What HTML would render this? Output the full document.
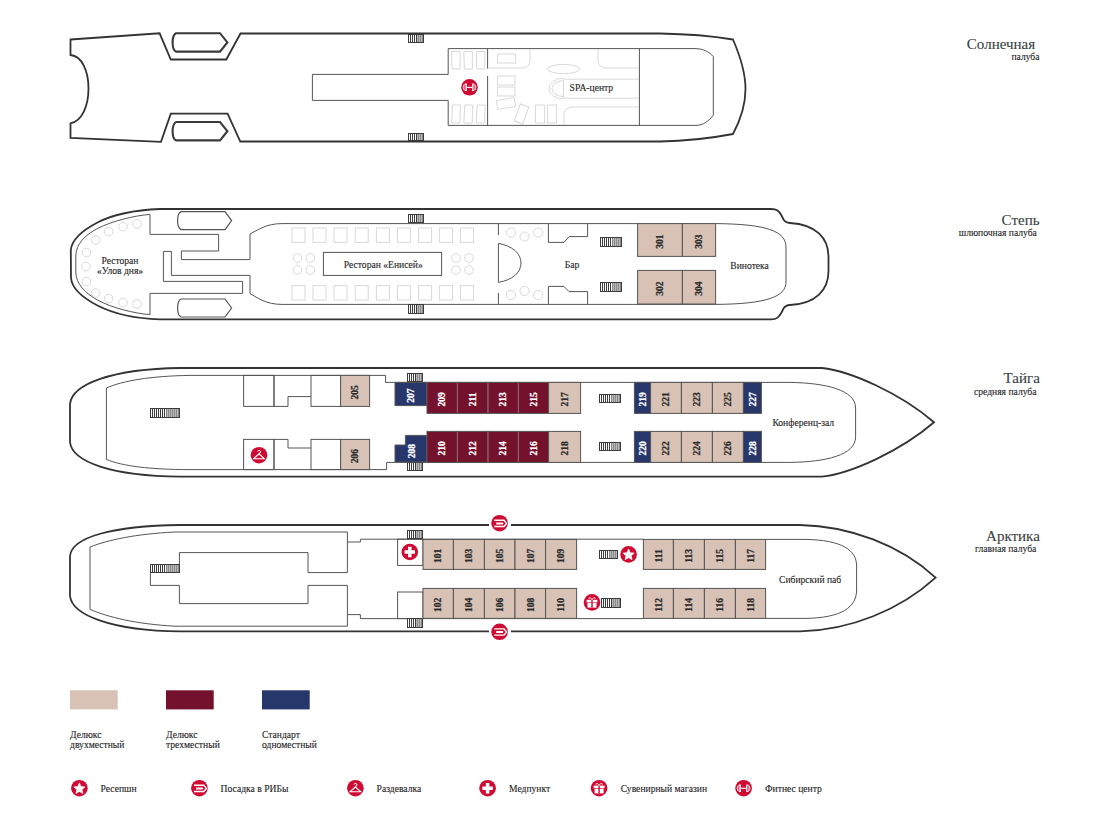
<!DOCTYPE html>
<html><head><meta charset="utf-8"><title>Deck plan</title>
<style>html,body{margin:0;padding:0;background:#fff;} svg{display:block;} text{font-family:"Liberation Serif",serif;}</style></head>
<body><svg width="1105" height="832" viewBox="0 0 1105 832">
<rect width="1105" height="832" fill="#fff"/>
<path d="M70.5,39.5 L159.6,33.3 L170.8,59.5 L226.3,59.5 L240.5,33.5 L660,33.5 C690,34 712,36 733,39.5 C741,58 745.5,73 745.5,89 C745.5,104 741,119 733,134 C712,138 690,141 660,141.5 L240.3,141.5 L227.6,113.7 L170.8,113.7 L161,141.8 L70.5,138 L70.5,123.4 C82,121 88.5,106 88.5,88.5 C88.5,71 82,56 70.5,55 Z" fill="none" stroke="#333" stroke-width="1.8"/>
<path d="M176,33.2 L220,33.2 L227.4,42.4 L220,51.6 L176,51.6 C173,50 172.6,46 172.6,42.4 C172.6,39 173,35 176,33.2 Z" fill="none" stroke="#3a3a3a" stroke-width="2.1"/>
<path d="M176,122 L220,122 L227.4,131.2 L220,140.4 L176,140.4 C173,139 172.6,135 172.6,131.2 C172.6,127.5 173,124 176,122 Z" fill="none" stroke="#3a3a3a" stroke-width="2.1"/>
<path d="M448.2,74.4 L312.4,74.4 L312.4,100.4 L448.2,100.4" fill="none" stroke="#555" stroke-width="1"/>
<path d="M448.2,74.4 L448.2,48.6 L695,48.6 C703,48.6 709,51.5 713.3,56.6 L713.3,115.2 C709,121 703,125.4 696,125.4 L448.2,125.4 L448.2,100.4" fill="none" stroke="#555" stroke-width="1"/>
<path d="M487.6,48.6 L487.6,68.6" fill="none" stroke="#555" stroke-width="1"/>
<path d="M487.6,76 L487.6,125.4" fill="none" stroke="#555" stroke-width="1"/>
<path d="M639.4,48.6 L639.4,125.4" fill="none" stroke="#555" stroke-width="1"/>
<rect x="408.5" y="34.5" width="15.0" height="8.0" fill="#fff" stroke="none"/>
<rect x="416.75" y="34.5" width="6.75" height="8.0" fill="#b8b8b8" stroke="none"/>
<line x1="410.5" y1="34.5" x2="410.5" y2="42.5" stroke="#3c3c3c" stroke-width="1"/>
<line x1="412.5" y1="34.5" x2="412.5" y2="42.5" stroke="#3c3c3c" stroke-width="1"/>
<line x1="414.5" y1="34.5" x2="414.5" y2="42.5" stroke="#3c3c3c" stroke-width="1"/>
<line x1="416.5" y1="34.5" x2="416.5" y2="42.5" stroke="#3c3c3c" stroke-width="1"/>
<line x1="418.5" y1="34.5" x2="418.5" y2="42.5" stroke="#8a8a8a" stroke-width="1"/>
<line x1="420.5" y1="34.5" x2="420.5" y2="42.5" stroke="#8a8a8a" stroke-width="1"/>
<line x1="422.5" y1="34.5" x2="422.5" y2="42.5" stroke="#8a8a8a" stroke-width="1"/>
<rect x="408.5" y="34.5" width="15.0" height="8.0" fill="none" stroke="#3c3c3c" stroke-width="1"/>
<rect x="408.5" y="133.5" width="15.0" height="7.0" fill="#fff" stroke="none"/>
<rect x="416.75" y="133.5" width="6.75" height="7.0" fill="#b8b8b8" stroke="none"/>
<line x1="410.5" y1="133.5" x2="410.5" y2="140.5" stroke="#3c3c3c" stroke-width="1"/>
<line x1="412.5" y1="133.5" x2="412.5" y2="140.5" stroke="#3c3c3c" stroke-width="1"/>
<line x1="414.5" y1="133.5" x2="414.5" y2="140.5" stroke="#3c3c3c" stroke-width="1"/>
<line x1="416.5" y1="133.5" x2="416.5" y2="140.5" stroke="#3c3c3c" stroke-width="1"/>
<line x1="418.5" y1="133.5" x2="418.5" y2="140.5" stroke="#8a8a8a" stroke-width="1"/>
<line x1="420.5" y1="133.5" x2="420.5" y2="140.5" stroke="#8a8a8a" stroke-width="1"/>
<line x1="422.5" y1="133.5" x2="422.5" y2="140.5" stroke="#8a8a8a" stroke-width="1"/>
<rect x="408.5" y="133.5" width="15.0" height="7.0" fill="none" stroke="#3c3c3c" stroke-width="1"/>
<path d="M451.5,51.5 L460.1,51.5 L460.1,69 L452.1,69 Z" fill="none" stroke="#d9d9d9" stroke-width="1"/>
<path d="M452.5,105 L460.5,105 L459.9,123 L451.5,123 Z" fill="none" stroke="#d9d9d9" stroke-width="1"/>
<path d="M463.8,51.5 L472.40000000000003,51.5 L472.40000000000003,69 L464.40000000000003,69 Z" fill="none" stroke="#d9d9d9" stroke-width="1"/>
<path d="M464.8,105 L472.8,105 L472.2,123 L463.8,123 Z" fill="none" stroke="#d9d9d9" stroke-width="1"/>
<path d="M476.2,51.5 L484.8,51.5 L484.8,69 L476.8,69 Z" fill="none" stroke="#d9d9d9" stroke-width="1"/>
<path d="M477.2,105 L485.2,105 L484.59999999999997,123 L476.2,123 Z" fill="none" stroke="#d9d9d9" stroke-width="1"/>
<rect x="497.6" y="54" width="18.0" height="9" fill="none" stroke="#d9d9d9" stroke-width="1"/>
<path d="M488,68 L522,68 Q530,68 530,60 L530,49" fill="none" stroke="#d9d9d9" stroke-width="1"/>
<ellipse cx="563.6" cy="69" rx="16" ry="4.6" fill="none" stroke="#d9d9d9" stroke-width="1"/>
<path d="M598,49 L598,60 Q598,68 607,68 L639,68" fill="none" stroke="#d9d9d9" stroke-width="1"/>
<rect x="497.6" y="76" width="17.4" height="9" fill="none" stroke="#d9d9d9" stroke-width="1"/>
<rect x="497.6" y="87" width="17.4" height="9" fill="none" stroke="#d9d9d9" stroke-width="1"/>
<rect x="497" y="99" width="18" height="9" transform="rotate(-10 506 103.5)" fill="none" stroke="#d9d9d9"/>
<rect x="517" y="105" width="9" height="18" transform="rotate(20 521.5 114)" fill="none" stroke="#d9d9d9"/>
<rect x="535.4" y="105" width="9.0" height="18" fill="none" stroke="#d9d9d9" stroke-width="1"/>
<rect x="547.4" y="105" width="9.0" height="18" fill="none" stroke="#d9d9d9" stroke-width="1"/>
<path d="M563.5,78.3 A14.6,10.3 0 0 0 563.5,98.9" fill="none" stroke="#d9d9d9" stroke-width="1"/>
<path d="M563.5,80.6 A11.6,8 0 0 0 563.5,96.6" fill="none" stroke="#d9d9d9" stroke-width="1"/>
<path d="M639,79.2 L563.5,79.2 L563.5,98.1 L639,98.1" fill="none" stroke="#d9d9d9" stroke-width="1"/>
<path d="M564,125 L564,114 Q564,107 575,107 L639,107" fill="none" stroke="#d9d9d9" stroke-width="1"/>
<g transform="translate(469.5,87.3)"><circle r="8.3" fill="#cf0a33"/>
<rect x="-3" y="-0.5" width="6" height="1.1" fill="#fff"/>
<rect x="-4.9" y="-3.7" width="2.3" height="7.4" rx="0.5" fill="#fff"/>
<rect x="2.6" y="-3.7" width="2.3" height="7.4" rx="0.5" fill="#fff"/>
<rect x="-4.0" y="-2.6" width="0.6" height="5.2" fill="#cf0a33"/>
<rect x="3.4" y="-2.6" width="0.6" height="5.2" fill="#cf0a33"/>
<path d="M-5.6,-2.6 Q-7.2,0 -5.6,2.6 M5.6,-2.6 Q7.2,0 5.6,2.6" fill="none" stroke="#fff" stroke-width="0.9"/>
</g>
<text x="569.6" y="90.7" text-anchor="start" font-family="Liberation Serif" font-size="9.6" fill="#262626" stroke="#262626" stroke-width="0.12">SPA-центр</text>
<path d="M160,209 L771,209 C777,209 779,211 781.5,215.5 L783.5,219.5 C785,222 786.5,222.8 790,223 C816,224.5 828.5,238 828.5,257 L828.5,271 C828.5,290 816,303.5 790,305 C786.5,305.2 785,306 783.5,308.5 L781.5,312.5 C779,317 777,319.4 771,319.4 L160,319.4 C135,318.5 112,313 97.5,305.5 C85,299 72,290 71,278 L70.8,250 C72,238 85,229 97.5,222.5 C112,215 135,210 160,209 Z" fill="none" stroke="#333" stroke-width="1.8"/>
<path d="M150,214.4 C135,215.5 112,221 97.5,228.5 C85,235 76,244 75.8,256 L75.8,272 C76,284 85,293 97.5,300 C112,308 135,313.5 150,314.6" fill="none" stroke="#555" stroke-width="1"/>
<path d="M181,211.6 L225,211.6 L231.6,220.6 L225,229.6 L181,229.6 C178,228 177.6,224 177.6,220.6 C177.6,217 178,213 181,211.6 Z" fill="none" stroke="#555" stroke-width="1.2"/>
<path d="M181,299 L225,299 L231.6,308 L225,317 L181,317 C178,315.5 177.6,311.5 177.6,308 C177.6,304.5 178,300.5 181,299 Z" fill="none" stroke="#555" stroke-width="1.2"/>
<path d="M150,214.4 L150,234.4 L218.6,234.4 L218.6,251 L181.4,251 L181.4,259.6 L250,259.6 L250,234" fill="none" stroke="#555" stroke-width="1"/>
<path d="M250,234 C258,230 266,223.6 282,223.6 L715.6,223.6" fill="none" stroke="#555" stroke-width="1"/>
<path d="M171.4,275.4 L171.4,251.4 L163.4,251.4 L163.4,281.4 L242.6,281.4 L242.6,293.4 L150,293.4 L150,314.6" fill="none" stroke="#555" stroke-width="1"/>
<path d="M171.4,275.4 L250,275.4 L250,293.6" fill="none" stroke="#555" stroke-width="1"/>
<path d="M250,293.6 C258,298 266,304.4 282,304.4 L715.6,304.4" fill="none" stroke="#555" stroke-width="1"/>
<rect x="323.4" y="252.4" width="118.2" height="23.0" fill="none" stroke="#555" stroke-width="1"/>
<text x="383.3" y="267.5" text-anchor="middle" font-family="Liberation Serif" font-size="9.6" fill="#262626" stroke="#262626" stroke-width="0.12">Ресторан «Енисей»</text>
<text x="120" y="263.5" text-anchor="middle" font-family="Liberation Serif" font-size="9.6" fill="#262626" stroke="#262626" stroke-width="0.12">Ресторан</text>
<text x="120" y="274.4" text-anchor="middle" font-family="Liberation Serif" font-size="9.6" fill="#262626" stroke="#262626" stroke-width="0.12">«Улов дня»</text>
<circle cx="137" cy="224" r="4.3" fill="none" stroke="#d9d9d9" stroke-width="1"/>
<circle cx="123" cy="226.6" r="4.3" fill="none" stroke="#d9d9d9" stroke-width="1"/>
<circle cx="108.6" cy="231.6" r="4.3" fill="none" stroke="#d9d9d9" stroke-width="1"/>
<circle cx="95.6" cy="240" r="4.3" fill="none" stroke="#d9d9d9" stroke-width="1"/>
<circle cx="86.4" cy="252.6" r="4.3" fill="none" stroke="#d9d9d9" stroke-width="1"/>
<circle cx="86" cy="266.6" r="4.3" fill="none" stroke="#d9d9d9" stroke-width="1"/>
<circle cx="86.4" cy="281.6" r="4.3" fill="none" stroke="#d9d9d9" stroke-width="1"/>
<circle cx="95.6" cy="293" r="4.3" fill="none" stroke="#d9d9d9" stroke-width="1"/>
<circle cx="108.6" cy="298.6" r="4.3" fill="none" stroke="#d9d9d9" stroke-width="1"/>
<circle cx="123" cy="302.6" r="4.3" fill="none" stroke="#d9d9d9" stroke-width="1"/>
<circle cx="137" cy="304" r="4.3" fill="none" stroke="#d9d9d9" stroke-width="1"/>
<rect x="292" y="228" width="13" height="14.4" fill="none" stroke="#d9d9d9" stroke-width="1"/>
<rect x="292" y="285.6" width="13" height="14.4" fill="none" stroke="#d9d9d9" stroke-width="1"/>
<rect x="313" y="228" width="13" height="14.4" fill="none" stroke="#d9d9d9" stroke-width="1"/>
<rect x="313" y="285.6" width="13" height="14.4" fill="none" stroke="#d9d9d9" stroke-width="1"/>
<rect x="334" y="228" width="13" height="14.4" fill="none" stroke="#d9d9d9" stroke-width="1"/>
<rect x="334" y="285.6" width="13" height="14.4" fill="none" stroke="#d9d9d9" stroke-width="1"/>
<rect x="355.2" y="228" width="13.0" height="14.4" fill="none" stroke="#d9d9d9" stroke-width="1"/>
<rect x="355.2" y="285.6" width="13.0" height="14.4" fill="none" stroke="#d9d9d9" stroke-width="1"/>
<rect x="376.4" y="228" width="13.0" height="14.4" fill="none" stroke="#d9d9d9" stroke-width="1"/>
<rect x="376.4" y="285.6" width="13.0" height="14.4" fill="none" stroke="#d9d9d9" stroke-width="1"/>
<rect x="397.4" y="228" width="13.0" height="14.4" fill="none" stroke="#d9d9d9" stroke-width="1"/>
<rect x="397.4" y="285.6" width="13.0" height="14.4" fill="none" stroke="#d9d9d9" stroke-width="1"/>
<rect x="418.6" y="228" width="13.0" height="14.4" fill="none" stroke="#d9d9d9" stroke-width="1"/>
<rect x="418.6" y="285.6" width="13.0" height="14.4" fill="none" stroke="#d9d9d9" stroke-width="1"/>
<rect x="439.6" y="228" width="13.0" height="14.4" fill="none" stroke="#d9d9d9" stroke-width="1"/>
<rect x="439.6" y="285.6" width="13.0" height="14.4" fill="none" stroke="#d9d9d9" stroke-width="1"/>
<rect x="460.6" y="228" width="13.0" height="14.4" fill="none" stroke="#d9d9d9" stroke-width="1"/>
<rect x="460.6" y="285.6" width="13.0" height="14.4" fill="none" stroke="#d9d9d9" stroke-width="1"/>
<circle cx="297.4" cy="258" r="4.3" fill="none" stroke="#d9d9d9" stroke-width="1"/>
<circle cx="310.4" cy="258" r="4.3" fill="none" stroke="#d9d9d9" stroke-width="1"/>
<circle cx="297.4" cy="270" r="4.3" fill="none" stroke="#d9d9d9" stroke-width="1"/>
<circle cx="310.4" cy="270" r="4.3" fill="none" stroke="#d9d9d9" stroke-width="1"/>
<circle cx="456" cy="258" r="4.3" fill="none" stroke="#d9d9d9" stroke-width="1"/>
<circle cx="469" cy="258" r="4.3" fill="none" stroke="#d9d9d9" stroke-width="1"/>
<circle cx="456" cy="270" r="4.3" fill="none" stroke="#d9d9d9" stroke-width="1"/>
<circle cx="469" cy="270" r="4.3" fill="none" stroke="#d9d9d9" stroke-width="1"/>
<rect x="408.5" y="214.5" width="15.0" height="8.0" fill="#fff" stroke="none"/>
<rect x="416.75" y="214.5" width="6.75" height="8.0" fill="#b8b8b8" stroke="none"/>
<line x1="410.5" y1="214.5" x2="410.5" y2="222.5" stroke="#3c3c3c" stroke-width="1"/>
<line x1="412.5" y1="214.5" x2="412.5" y2="222.5" stroke="#3c3c3c" stroke-width="1"/>
<line x1="414.5" y1="214.5" x2="414.5" y2="222.5" stroke="#3c3c3c" stroke-width="1"/>
<line x1="416.5" y1="214.5" x2="416.5" y2="222.5" stroke="#3c3c3c" stroke-width="1"/>
<line x1="418.5" y1="214.5" x2="418.5" y2="222.5" stroke="#8a8a8a" stroke-width="1"/>
<line x1="420.5" y1="214.5" x2="420.5" y2="222.5" stroke="#8a8a8a" stroke-width="1"/>
<line x1="422.5" y1="214.5" x2="422.5" y2="222.5" stroke="#8a8a8a" stroke-width="1"/>
<rect x="408.5" y="214.5" width="15.0" height="8.0" fill="none" stroke="#3c3c3c" stroke-width="1"/>
<rect x="408.5" y="304.5" width="15.0" height="9.0" fill="#fff" stroke="none"/>
<rect x="416.75" y="304.5" width="6.75" height="9.0" fill="#b8b8b8" stroke="none"/>
<line x1="410.5" y1="304.5" x2="410.5" y2="313.5" stroke="#3c3c3c" stroke-width="1"/>
<line x1="412.5" y1="304.5" x2="412.5" y2="313.5" stroke="#3c3c3c" stroke-width="1"/>
<line x1="414.5" y1="304.5" x2="414.5" y2="313.5" stroke="#3c3c3c" stroke-width="1"/>
<line x1="416.5" y1="304.5" x2="416.5" y2="313.5" stroke="#3c3c3c" stroke-width="1"/>
<line x1="418.5" y1="304.5" x2="418.5" y2="313.5" stroke="#8a8a8a" stroke-width="1"/>
<line x1="420.5" y1="304.5" x2="420.5" y2="313.5" stroke="#8a8a8a" stroke-width="1"/>
<line x1="422.5" y1="304.5" x2="422.5" y2="313.5" stroke="#8a8a8a" stroke-width="1"/>
<rect x="408.5" y="304.5" width="15.0" height="9.0" fill="none" stroke="#3c3c3c" stroke-width="1"/>
<path d="M498.4,223.6 L498.4,235" fill="none" stroke="#555" stroke-width="1"/>
<path d="M498.4,293 L498.4,304" fill="none" stroke="#555" stroke-width="1"/>
<path d="M498.4,243.4 C512,246 521,253 521,263 C521,273 512,280 498.4,282.4 Z" fill="none" stroke="#555" stroke-width="1"/>
<circle cx="511" cy="232.6" r="4.6" fill="none" stroke="#d9d9d9" stroke-width="1"/>
<circle cx="524.6" cy="236.6" r="4.6" fill="none" stroke="#d9d9d9" stroke-width="1"/>
<circle cx="538.2" cy="232.6" r="4.6" fill="none" stroke="#d9d9d9" stroke-width="1"/>
<circle cx="511" cy="295" r="4.6" fill="none" stroke="#d9d9d9" stroke-width="1"/>
<circle cx="524.6" cy="291" r="4.6" fill="none" stroke="#d9d9d9" stroke-width="1"/>
<circle cx="538.2" cy="295" r="4.6" fill="none" stroke="#d9d9d9" stroke-width="1"/>
<path d="M548.4,223.6 L548.4,242.4 L564,242.4 L569,236.6 L587.6,236.6 L587.6,223.6" fill="none" stroke="#555" stroke-width="1"/>
<path d="M548.4,304 L548.4,286.4 L564,286.4 L569,291.6 L587.6,291.6 L587.6,304" fill="none" stroke="#555" stroke-width="1"/>
<rect x="600.5" y="237.5" width="21.0" height="9.0" fill="#fff" stroke="none"/>
<rect x="612.05" y="237.5" width="9.45" height="9.0" fill="#b8b8b8" stroke="none"/>
<line x1="602.5" y1="237.5" x2="602.5" y2="246.5" stroke="#3c3c3c" stroke-width="1"/>
<line x1="604.5" y1="237.5" x2="604.5" y2="246.5" stroke="#3c3c3c" stroke-width="1"/>
<line x1="606.5" y1="237.5" x2="606.5" y2="246.5" stroke="#3c3c3c" stroke-width="1"/>
<line x1="608.5" y1="237.5" x2="608.5" y2="246.5" stroke="#3c3c3c" stroke-width="1"/>
<line x1="610.5" y1="237.5" x2="610.5" y2="246.5" stroke="#3c3c3c" stroke-width="1"/>
<line x1="612.5" y1="237.5" x2="612.5" y2="246.5" stroke="#8a8a8a" stroke-width="1"/>
<line x1="614.5" y1="237.5" x2="614.5" y2="246.5" stroke="#8a8a8a" stroke-width="1"/>
<line x1="616.5" y1="237.5" x2="616.5" y2="246.5" stroke="#8a8a8a" stroke-width="1"/>
<line x1="618.5" y1="237.5" x2="618.5" y2="246.5" stroke="#8a8a8a" stroke-width="1"/>
<line x1="620.5" y1="237.5" x2="620.5" y2="246.5" stroke="#8a8a8a" stroke-width="1"/>
<rect x="600.5" y="237.5" width="21.0" height="9.0" fill="none" stroke="#3c3c3c" stroke-width="1"/>
<rect x="600.5" y="282.5" width="21.0" height="9.0" fill="#fff" stroke="none"/>
<rect x="612.05" y="282.5" width="9.45" height="9.0" fill="#b8b8b8" stroke="none"/>
<line x1="602.5" y1="282.5" x2="602.5" y2="291.5" stroke="#3c3c3c" stroke-width="1"/>
<line x1="604.5" y1="282.5" x2="604.5" y2="291.5" stroke="#3c3c3c" stroke-width="1"/>
<line x1="606.5" y1="282.5" x2="606.5" y2="291.5" stroke="#3c3c3c" stroke-width="1"/>
<line x1="608.5" y1="282.5" x2="608.5" y2="291.5" stroke="#3c3c3c" stroke-width="1"/>
<line x1="610.5" y1="282.5" x2="610.5" y2="291.5" stroke="#3c3c3c" stroke-width="1"/>
<line x1="612.5" y1="282.5" x2="612.5" y2="291.5" stroke="#8a8a8a" stroke-width="1"/>
<line x1="614.5" y1="282.5" x2="614.5" y2="291.5" stroke="#8a8a8a" stroke-width="1"/>
<line x1="616.5" y1="282.5" x2="616.5" y2="291.5" stroke="#8a8a8a" stroke-width="1"/>
<line x1="618.5" y1="282.5" x2="618.5" y2="291.5" stroke="#8a8a8a" stroke-width="1"/>
<line x1="620.5" y1="282.5" x2="620.5" y2="291.5" stroke="#8a8a8a" stroke-width="1"/>
<rect x="600.5" y="282.5" width="21.0" height="9.0" fill="none" stroke="#3c3c3c" stroke-width="1"/>
<text x="572" y="267.7" text-anchor="middle" font-family="Liberation Serif" font-size="9.6" fill="#262626" stroke="#262626" stroke-width="0.12">Бар</text>
<rect x="637.6" y="223.6" width="44.8" height="32.8" fill="#d8c2b6" stroke="#555" stroke-width="1"/>
<text x="0" y="0" transform="translate(663.2,241.5) rotate(-90)" text-anchor="middle" font-family="Liberation Serif" font-weight="bold" font-size="9.5" fill="#2b2b2b" stroke="#2b2b2b" stroke-width="0.25">301</text>
<rect x="682.4" y="223.6" width="33.2" height="32.8" fill="#d8c2b6" stroke="#555" stroke-width="1"/>
<text x="0" y="0" transform="translate(702.2,241.5) rotate(-90)" text-anchor="middle" font-family="Liberation Serif" font-weight="bold" font-size="9.5" fill="#2b2b2b" stroke="#2b2b2b" stroke-width="0.25">303</text>
<rect x="637.6" y="270.4" width="44.8" height="33.6" fill="#d8c2b6" stroke="#555" stroke-width="1"/>
<text x="0" y="0" transform="translate(663.2,288.7) rotate(-90)" text-anchor="middle" font-family="Liberation Serif" font-weight="bold" font-size="9.5" fill="#2b2b2b" stroke="#2b2b2b" stroke-width="0.25">302</text>
<rect x="682.4" y="270.4" width="33.2" height="33.6" fill="#d8c2b6" stroke="#555" stroke-width="1"/>
<text x="0" y="0" transform="translate(702.2,288.7) rotate(-90)" text-anchor="middle" font-family="Liberation Serif" font-weight="bold" font-size="9.5" fill="#2b2b2b" stroke="#2b2b2b" stroke-width="0.25">304</text>
<path d="M715.6,223.6 C766,224 786,231 786,247 L786,282 C786,297 766,304 715.6,304.4" fill="none" stroke="#555" stroke-width="1"/>
<text x="749.6" y="269" text-anchor="middle" font-family="Liberation Serif" font-size="9.6" fill="#262626" stroke="#262626" stroke-width="0.12">Винотека</text>
<path d="M180,368 L822,368 C850,371 900,393 934,422.3 C900,451.6 850,473.6 822,476.6 L180,476.6 C112,476 72,462 70,442 L70,404 C72,384 112,369 180,368 Z" fill="none" stroke="#333" stroke-width="1.8"/>
<path d="M385.6,375.4 L190,375.4 C150,376 122,381 106.4,388 L106.4,459.4 C122,466 150,469.6 190,469.6 L386.6,469.6 L386.6,462.4 L395,462.4" fill="none" stroke="#555" stroke-width="1"/>
<path d="M385.6,375.4 L385.6,382.4 L761.4,382.4" fill="none" stroke="#555" stroke-width="1"/>
<path d="M395,462.4 L761.4,462.4" fill="none" stroke="#555" stroke-width="1"/>
<rect x="150.5" y="408.5" width="29.0" height="9.0" fill="#fff" stroke="none"/>
<rect x="166.45" y="408.5" width="13.05" height="9.0" fill="#b8b8b8" stroke="none"/>
<line x1="152.5" y1="408.5" x2="152.5" y2="417.5" stroke="#3c3c3c" stroke-width="1"/>
<line x1="154.5" y1="408.5" x2="154.5" y2="417.5" stroke="#3c3c3c" stroke-width="1"/>
<line x1="156.5" y1="408.5" x2="156.5" y2="417.5" stroke="#3c3c3c" stroke-width="1"/>
<line x1="158.5" y1="408.5" x2="158.5" y2="417.5" stroke="#3c3c3c" stroke-width="1"/>
<line x1="160.5" y1="408.5" x2="160.5" y2="417.5" stroke="#3c3c3c" stroke-width="1"/>
<line x1="162.5" y1="408.5" x2="162.5" y2="417.5" stroke="#3c3c3c" stroke-width="1"/>
<line x1="164.5" y1="408.5" x2="164.5" y2="417.5" stroke="#3c3c3c" stroke-width="1"/>
<line x1="166.5" y1="408.5" x2="166.5" y2="417.5" stroke="#8a8a8a" stroke-width="1"/>
<line x1="168.5" y1="408.5" x2="168.5" y2="417.5" stroke="#8a8a8a" stroke-width="1"/>
<line x1="170.5" y1="408.5" x2="170.5" y2="417.5" stroke="#8a8a8a" stroke-width="1"/>
<line x1="172.5" y1="408.5" x2="172.5" y2="417.5" stroke="#8a8a8a" stroke-width="1"/>
<line x1="174.5" y1="408.5" x2="174.5" y2="417.5" stroke="#8a8a8a" stroke-width="1"/>
<line x1="176.5" y1="408.5" x2="176.5" y2="417.5" stroke="#8a8a8a" stroke-width="1"/>
<line x1="178.5" y1="408.5" x2="178.5" y2="417.5" stroke="#8a8a8a" stroke-width="1"/>
<rect x="150.5" y="408.5" width="29.0" height="9.0" fill="none" stroke="#3c3c3c" stroke-width="1"/>
<rect x="243.6" y="375.4" width="30.4" height="31.0" fill="none" stroke="#555" stroke-width="1"/>
<path d="M274,375.4 L274,406.4 L288,406.4 L288,396.6 L311,396.6" fill="none" stroke="#555" stroke-width="1"/>
<rect x="311" y="375.4" width="29.6" height="31.0" fill="none" stroke="#555" stroke-width="1"/>
<rect x="243.6" y="439.4" width="30.4" height="30.2" fill="none" stroke="#555" stroke-width="1"/>
<path d="M274,469.6 L274,439.4 L288,439.4 L288,448 L311,448" fill="none" stroke="#555" stroke-width="1"/>
<rect x="311" y="439.4" width="29.6" height="30.2" fill="none" stroke="#555" stroke-width="1"/>
<rect x="340.6" y="375.4" width="29.0" height="31.0" fill="#d8c2b6" stroke="#555" stroke-width="1"/>
<text x="0" y="0" transform="translate(358.3,392.4) rotate(-90)" text-anchor="middle" font-family="Liberation Serif" font-weight="bold" font-size="9.5" fill="#2b2b2b" stroke="#2b2b2b" stroke-width="0.25">205</text>
<rect x="340.6" y="439.4" width="29.0" height="30.2" fill="#d8c2b6" stroke="#555" stroke-width="1"/>
<text x="0" y="0" transform="translate(358.3,456.0) rotate(-90)" text-anchor="middle" font-family="Liberation Serif" font-weight="bold" font-size="9.5" fill="#2b2b2b" stroke="#2b2b2b" stroke-width="0.25">206</text>
<g transform="translate(259,455.2)"><circle r="8.3" fill="#cf0a33"/>
<path d="M0,-1.2 L-5.6,3.6 L5.6,3.6 Z" fill="none" stroke="#fff" stroke-width="1.1" stroke-linejoin="round"/>
<path d="M-1.4,-3.6 A1.5,1.5 0 1 1 0,-1.8 L0,-1.2" fill="none" stroke="#fff" stroke-width="1"/>
</g>
<rect x="407.5" y="373.5" width="15.0" height="8.0" fill="#fff" stroke="none"/>
<rect x="415.75" y="373.5" width="6.75" height="8.0" fill="#b8b8b8" stroke="none"/>
<line x1="409.5" y1="373.5" x2="409.5" y2="381.5" stroke="#3c3c3c" stroke-width="1"/>
<line x1="411.5" y1="373.5" x2="411.5" y2="381.5" stroke="#3c3c3c" stroke-width="1"/>
<line x1="413.5" y1="373.5" x2="413.5" y2="381.5" stroke="#3c3c3c" stroke-width="1"/>
<line x1="415.5" y1="373.5" x2="415.5" y2="381.5" stroke="#3c3c3c" stroke-width="1"/>
<line x1="417.5" y1="373.5" x2="417.5" y2="381.5" stroke="#8a8a8a" stroke-width="1"/>
<line x1="419.5" y1="373.5" x2="419.5" y2="381.5" stroke="#8a8a8a" stroke-width="1"/>
<line x1="421.5" y1="373.5" x2="421.5" y2="381.5" stroke="#8a8a8a" stroke-width="1"/>
<rect x="407.5" y="373.5" width="15.0" height="8.0" fill="none" stroke="#3c3c3c" stroke-width="1"/>
<rect x="407.5" y="462.5" width="15.0" height="8.0" fill="#fff" stroke="none"/>
<rect x="415.75" y="462.5" width="6.75" height="8.0" fill="#b8b8b8" stroke="none"/>
<line x1="409.5" y1="462.5" x2="409.5" y2="470.5" stroke="#3c3c3c" stroke-width="1"/>
<line x1="411.5" y1="462.5" x2="411.5" y2="470.5" stroke="#3c3c3c" stroke-width="1"/>
<line x1="413.5" y1="462.5" x2="413.5" y2="470.5" stroke="#3c3c3c" stroke-width="1"/>
<line x1="415.5" y1="462.5" x2="415.5" y2="470.5" stroke="#3c3c3c" stroke-width="1"/>
<line x1="417.5" y1="462.5" x2="417.5" y2="470.5" stroke="#8a8a8a" stroke-width="1"/>
<line x1="419.5" y1="462.5" x2="419.5" y2="470.5" stroke="#8a8a8a" stroke-width="1"/>
<line x1="421.5" y1="462.5" x2="421.5" y2="470.5" stroke="#8a8a8a" stroke-width="1"/>
<rect x="407.5" y="462.5" width="15.0" height="8.0" fill="none" stroke="#3c3c3c" stroke-width="1"/>
<rect x="395" y="382.4" width="31.5" height="23.2" fill="#27366b" stroke="#555" stroke-width="1"/>
<text x="0" y="0" transform="translate(413.95,395.5) rotate(-90)" text-anchor="middle" font-family="Liberation Serif" font-weight="bold" font-size="9.5" fill="#fff" stroke="#fff" stroke-width="0.25">207</text>
<path d="M395,445 L405.4,445 L405.4,435.4 L426.5,435.4 L426.5,462 L395,462 Z" fill="#27366b" stroke="#555" stroke-width="1"/>
<text x="0" y="0" transform="translate(415.3,451) rotate(-90)" text-anchor="middle" font-family="Liberation Serif" font-weight="bold" font-size="9.5" fill="#fff" stroke="#fff" stroke-width="0.25">208</text>
<rect x="427" y="382.4" width="30.4" height="31.0" fill="#74122d" stroke="#555" stroke-width="1"/>
<text x="0" y="0" transform="translate(445.4,399.4) rotate(-90)" text-anchor="middle" font-family="Liberation Serif" font-weight="bold" font-size="9.5" fill="#fff" stroke="#fff" stroke-width="0.25">209</text>
<rect x="457.4" y="382.4" width="30.6" height="31.0" fill="#74122d" stroke="#555" stroke-width="1"/>
<text x="0" y="0" transform="translate(475.9,399.4) rotate(-90)" text-anchor="middle" font-family="Liberation Serif" font-weight="bold" font-size="9.5" fill="#fff" stroke="#fff" stroke-width="0.25">211</text>
<rect x="488" y="382.4" width="30.4" height="31.0" fill="#74122d" stroke="#555" stroke-width="1"/>
<text x="0" y="0" transform="translate(506.4,399.4) rotate(-90)" text-anchor="middle" font-family="Liberation Serif" font-weight="bold" font-size="9.5" fill="#fff" stroke="#fff" stroke-width="0.25">213</text>
<rect x="518.4" y="382.4" width="30.2" height="31.0" fill="#74122d" stroke="#555" stroke-width="1"/>
<text x="0" y="0" transform="translate(536.7,399.4) rotate(-90)" text-anchor="middle" font-family="Liberation Serif" font-weight="bold" font-size="9.5" fill="#fff" stroke="#fff" stroke-width="0.25">215</text>
<rect x="427" y="431.4" width="30.4" height="31.0" fill="#74122d" stroke="#555" stroke-width="1"/>
<text x="0" y="0" transform="translate(445.4,448.4) rotate(-90)" text-anchor="middle" font-family="Liberation Serif" font-weight="bold" font-size="9.5" fill="#fff" stroke="#fff" stroke-width="0.25">210</text>
<rect x="457.4" y="431.4" width="30.6" height="31.0" fill="#74122d" stroke="#555" stroke-width="1"/>
<text x="0" y="0" transform="translate(475.9,448.4) rotate(-90)" text-anchor="middle" font-family="Liberation Serif" font-weight="bold" font-size="9.5" fill="#fff" stroke="#fff" stroke-width="0.25">212</text>
<rect x="488" y="431.4" width="30.4" height="31.0" fill="#74122d" stroke="#555" stroke-width="1"/>
<text x="0" y="0" transform="translate(506.4,448.4) rotate(-90)" text-anchor="middle" font-family="Liberation Serif" font-weight="bold" font-size="9.5" fill="#fff" stroke="#fff" stroke-width="0.25">214</text>
<rect x="518.4" y="431.4" width="30.2" height="31.0" fill="#74122d" stroke="#555" stroke-width="1"/>
<text x="0" y="0" transform="translate(536.7,448.4) rotate(-90)" text-anchor="middle" font-family="Liberation Serif" font-weight="bold" font-size="9.5" fill="#fff" stroke="#fff" stroke-width="0.25">216</text>
<line x1="457.4" y1="383.2" x2="457.4" y2="412.6" stroke="#9a6472" stroke-width="1"/>
<line x1="457.4" y1="432.2" x2="457.4" y2="461.6" stroke="#9a6472" stroke-width="1"/>
<line x1="488" y1="383.2" x2="488" y2="412.6" stroke="#9a6472" stroke-width="1"/>
<line x1="488" y1="432.2" x2="488" y2="461.6" stroke="#9a6472" stroke-width="1"/>
<line x1="518.4" y1="383.2" x2="518.4" y2="412.6" stroke="#9a6472" stroke-width="1"/>
<line x1="518.4" y1="432.2" x2="518.4" y2="461.6" stroke="#9a6472" stroke-width="1"/>
<rect x="548.6" y="382.4" width="32.0" height="31.0" fill="#d8c2b6" stroke="#555" stroke-width="1"/>
<text x="0" y="0" transform="translate(567.8,399.4) rotate(-90)" text-anchor="middle" font-family="Liberation Serif" font-weight="bold" font-size="9.5" fill="#2b2b2b" stroke="#2b2b2b" stroke-width="0.25">217</text>
<rect x="548.6" y="431.4" width="32.0" height="31.0" fill="#d8c2b6" stroke="#555" stroke-width="1"/>
<text x="0" y="0" transform="translate(567.8,448.4) rotate(-90)" text-anchor="middle" font-family="Liberation Serif" font-weight="bold" font-size="9.5" fill="#2b2b2b" stroke="#2b2b2b" stroke-width="0.25">218</text>
<rect x="599.5" y="394.5" width="21.0" height="8.0" fill="#fff" stroke="none"/>
<rect x="611.05" y="394.5" width="9.45" height="8.0" fill="#b8b8b8" stroke="none"/>
<line x1="601.5" y1="394.5" x2="601.5" y2="402.5" stroke="#3c3c3c" stroke-width="1"/>
<line x1="603.5" y1="394.5" x2="603.5" y2="402.5" stroke="#3c3c3c" stroke-width="1"/>
<line x1="605.5" y1="394.5" x2="605.5" y2="402.5" stroke="#3c3c3c" stroke-width="1"/>
<line x1="607.5" y1="394.5" x2="607.5" y2="402.5" stroke="#3c3c3c" stroke-width="1"/>
<line x1="609.5" y1="394.5" x2="609.5" y2="402.5" stroke="#3c3c3c" stroke-width="1"/>
<line x1="611.5" y1="394.5" x2="611.5" y2="402.5" stroke="#8a8a8a" stroke-width="1"/>
<line x1="613.5" y1="394.5" x2="613.5" y2="402.5" stroke="#8a8a8a" stroke-width="1"/>
<line x1="615.5" y1="394.5" x2="615.5" y2="402.5" stroke="#8a8a8a" stroke-width="1"/>
<line x1="617.5" y1="394.5" x2="617.5" y2="402.5" stroke="#8a8a8a" stroke-width="1"/>
<line x1="619.5" y1="394.5" x2="619.5" y2="402.5" stroke="#8a8a8a" stroke-width="1"/>
<rect x="599.5" y="394.5" width="21.0" height="8.0" fill="none" stroke="#3c3c3c" stroke-width="1"/>
<rect x="599.5" y="442.5" width="21.0" height="8.0" fill="#fff" stroke="none"/>
<rect x="611.05" y="442.5" width="9.45" height="8.0" fill="#b8b8b8" stroke="none"/>
<line x1="601.5" y1="442.5" x2="601.5" y2="450.5" stroke="#3c3c3c" stroke-width="1"/>
<line x1="603.5" y1="442.5" x2="603.5" y2="450.5" stroke="#3c3c3c" stroke-width="1"/>
<line x1="605.5" y1="442.5" x2="605.5" y2="450.5" stroke="#3c3c3c" stroke-width="1"/>
<line x1="607.5" y1="442.5" x2="607.5" y2="450.5" stroke="#3c3c3c" stroke-width="1"/>
<line x1="609.5" y1="442.5" x2="609.5" y2="450.5" stroke="#3c3c3c" stroke-width="1"/>
<line x1="611.5" y1="442.5" x2="611.5" y2="450.5" stroke="#8a8a8a" stroke-width="1"/>
<line x1="613.5" y1="442.5" x2="613.5" y2="450.5" stroke="#8a8a8a" stroke-width="1"/>
<line x1="615.5" y1="442.5" x2="615.5" y2="450.5" stroke="#8a8a8a" stroke-width="1"/>
<line x1="617.5" y1="442.5" x2="617.5" y2="450.5" stroke="#8a8a8a" stroke-width="1"/>
<line x1="619.5" y1="442.5" x2="619.5" y2="450.5" stroke="#8a8a8a" stroke-width="1"/>
<rect x="599.5" y="442.5" width="21.0" height="8.0" fill="none" stroke="#3c3c3c" stroke-width="1"/>
<rect x="634.4" y="382.4" width="16.2" height="31.0" fill="#27366b" stroke="#555" stroke-width="1"/>
<text x="0" y="0" transform="translate(645.7,399.4) rotate(-90)" text-anchor="middle" font-family="Liberation Serif" font-weight="bold" font-size="9.5" fill="#fff" stroke="#fff" stroke-width="0.25">219</text>
<rect x="650.6" y="382.4" width="30.8" height="31.0" fill="#d8c2b6" stroke="#555" stroke-width="1"/>
<text x="0" y="0" transform="translate(669.2,399.4) rotate(-90)" text-anchor="middle" font-family="Liberation Serif" font-weight="bold" font-size="9.5" fill="#2b2b2b" stroke="#2b2b2b" stroke-width="0.25">221</text>
<rect x="681.4" y="382.4" width="31.0" height="31.0" fill="#d8c2b6" stroke="#555" stroke-width="1"/>
<text x="0" y="0" transform="translate(700.1,399.4) rotate(-90)" text-anchor="middle" font-family="Liberation Serif" font-weight="bold" font-size="9.5" fill="#2b2b2b" stroke="#2b2b2b" stroke-width="0.25">223</text>
<rect x="712.4" y="382.4" width="31.0" height="31.0" fill="#d8c2b6" stroke="#555" stroke-width="1"/>
<text x="0" y="0" transform="translate(731.1,399.4) rotate(-90)" text-anchor="middle" font-family="Liberation Serif" font-weight="bold" font-size="9.5" fill="#2b2b2b" stroke="#2b2b2b" stroke-width="0.25">225</text>
<rect x="743.4" y="382.4" width="18.0" height="31.0" fill="#27366b" stroke="#555" stroke-width="1"/>
<text x="0" y="0" transform="translate(755.6,399.4) rotate(-90)" text-anchor="middle" font-family="Liberation Serif" font-weight="bold" font-size="9.5" fill="#fff" stroke="#fff" stroke-width="0.25">227</text>
<rect x="634.4" y="431.4" width="16.2" height="31.0" fill="#27366b" stroke="#555" stroke-width="1"/>
<text x="0" y="0" transform="translate(645.7,448.4) rotate(-90)" text-anchor="middle" font-family="Liberation Serif" font-weight="bold" font-size="9.5" fill="#fff" stroke="#fff" stroke-width="0.25">220</text>
<rect x="650.6" y="431.4" width="30.8" height="31.0" fill="#d8c2b6" stroke="#555" stroke-width="1"/>
<text x="0" y="0" transform="translate(669.2,448.4) rotate(-90)" text-anchor="middle" font-family="Liberation Serif" font-weight="bold" font-size="9.5" fill="#2b2b2b" stroke="#2b2b2b" stroke-width="0.25">222</text>
<rect x="681.4" y="431.4" width="31.0" height="31.0" fill="#d8c2b6" stroke="#555" stroke-width="1"/>
<text x="0" y="0" transform="translate(700.1,448.4) rotate(-90)" text-anchor="middle" font-family="Liberation Serif" font-weight="bold" font-size="9.5" fill="#2b2b2b" stroke="#2b2b2b" stroke-width="0.25">224</text>
<rect x="712.4" y="431.4" width="31.0" height="31.0" fill="#d8c2b6" stroke="#555" stroke-width="1"/>
<text x="0" y="0" transform="translate(731.1,448.4) rotate(-90)" text-anchor="middle" font-family="Liberation Serif" font-weight="bold" font-size="9.5" fill="#2b2b2b" stroke="#2b2b2b" stroke-width="0.25">226</text>
<rect x="743.4" y="431.4" width="18.0" height="31.0" fill="#27366b" stroke="#555" stroke-width="1"/>
<text x="0" y="0" transform="translate(755.6,448.4) rotate(-90)" text-anchor="middle" font-family="Liberation Serif" font-weight="bold" font-size="9.5" fill="#fff" stroke="#fff" stroke-width="0.25">228</text>
<path d="M761.4,382.4 L790,382.4 C826,383 855.6,390 855.6,408 L855.6,437 C855.6,455 826,462 790,462.4 L761.4,462.4" fill="none" stroke="#555" stroke-width="1"/>
<text x="772.4" y="425.6" text-anchor="start" font-family="Liberation Serif" font-size="9.6" fill="#262626" stroke="#262626" stroke-width="0.12">Конференц-зал</text>
<path d="M180,525 L800,525 C850,526 900,545 935.6,577.6 C900,610 850,630.4 800,631.4 L180,631.4 C112,631 72,615 70,596 L70,556 C72,537 112,526 180,525 Z" fill="none" stroke="#333" stroke-width="1.8"/>
<path d="M347.4,532 L175,532 C135,534 108,540 90,547 L90,609.4 C108,617 135,624 175,626.2 L347.4,626.2" fill="none" stroke="#555" stroke-width="1"/>
<path d="M347.4,532 L347.4,572.6 L308,572.6 L308,552.6 L179.4,552.6 L179.4,564" fill="none" stroke="#555" stroke-width="1"/>
<path d="M150.4,573 L150.4,585.4 L179.4,585.4 L179.4,603.6 L308,603.6 L308,585.4 L347.4,585.4 L347.4,626.2" fill="none" stroke="#555" stroke-width="1"/>
<rect x="150.5" y="564.5" width="29.0" height="8.0" fill="#fff" stroke="none"/>
<rect x="166.45" y="564.5" width="13.05" height="8.0" fill="#b8b8b8" stroke="none"/>
<line x1="152.5" y1="564.5" x2="152.5" y2="572.5" stroke="#3c3c3c" stroke-width="1"/>
<line x1="154.5" y1="564.5" x2="154.5" y2="572.5" stroke="#3c3c3c" stroke-width="1"/>
<line x1="156.5" y1="564.5" x2="156.5" y2="572.5" stroke="#3c3c3c" stroke-width="1"/>
<line x1="158.5" y1="564.5" x2="158.5" y2="572.5" stroke="#3c3c3c" stroke-width="1"/>
<line x1="160.5" y1="564.5" x2="160.5" y2="572.5" stroke="#3c3c3c" stroke-width="1"/>
<line x1="162.5" y1="564.5" x2="162.5" y2="572.5" stroke="#3c3c3c" stroke-width="1"/>
<line x1="164.5" y1="564.5" x2="164.5" y2="572.5" stroke="#3c3c3c" stroke-width="1"/>
<line x1="166.5" y1="564.5" x2="166.5" y2="572.5" stroke="#8a8a8a" stroke-width="1"/>
<line x1="168.5" y1="564.5" x2="168.5" y2="572.5" stroke="#8a8a8a" stroke-width="1"/>
<line x1="170.5" y1="564.5" x2="170.5" y2="572.5" stroke="#8a8a8a" stroke-width="1"/>
<line x1="172.5" y1="564.5" x2="172.5" y2="572.5" stroke="#8a8a8a" stroke-width="1"/>
<line x1="174.5" y1="564.5" x2="174.5" y2="572.5" stroke="#8a8a8a" stroke-width="1"/>
<line x1="176.5" y1="564.5" x2="176.5" y2="572.5" stroke="#8a8a8a" stroke-width="1"/>
<line x1="178.5" y1="564.5" x2="178.5" y2="572.5" stroke="#8a8a8a" stroke-width="1"/>
<rect x="150.5" y="564.5" width="29.0" height="8.0" fill="none" stroke="#3c3c3c" stroke-width="1"/>
<path d="M347.4,542 L360.4,542 L360.4,539.2 L643.4,539.2" fill="none" stroke="#555" stroke-width="1"/>
<path d="M347.4,614.6 L360.4,614.6 L360.4,618.6 L643.4,618.6" fill="none" stroke="#555" stroke-width="1"/>
<rect x="397.6" y="539.2" width="25.4" height="26.2" fill="none" stroke="#555" stroke-width="1"/>
<rect x="397.6" y="592" width="25.4" height="26.6" fill="none" stroke="#555" stroke-width="1"/>
<rect x="407.5" y="530.5" width="15.0" height="8.0" fill="#fff" stroke="none"/>
<rect x="415.75" y="530.5" width="6.75" height="8.0" fill="#b8b8b8" stroke="none"/>
<line x1="409.5" y1="530.5" x2="409.5" y2="538.5" stroke="#3c3c3c" stroke-width="1"/>
<line x1="411.5" y1="530.5" x2="411.5" y2="538.5" stroke="#3c3c3c" stroke-width="1"/>
<line x1="413.5" y1="530.5" x2="413.5" y2="538.5" stroke="#3c3c3c" stroke-width="1"/>
<line x1="415.5" y1="530.5" x2="415.5" y2="538.5" stroke="#3c3c3c" stroke-width="1"/>
<line x1="417.5" y1="530.5" x2="417.5" y2="538.5" stroke="#8a8a8a" stroke-width="1"/>
<line x1="419.5" y1="530.5" x2="419.5" y2="538.5" stroke="#8a8a8a" stroke-width="1"/>
<line x1="421.5" y1="530.5" x2="421.5" y2="538.5" stroke="#8a8a8a" stroke-width="1"/>
<rect x="407.5" y="530.5" width="15.0" height="8.0" fill="none" stroke="#3c3c3c" stroke-width="1"/>
<rect x="407.5" y="618.5" width="15.0" height="9.0" fill="#fff" stroke="none"/>
<rect x="415.75" y="618.5" width="6.75" height="9.0" fill="#b8b8b8" stroke="none"/>
<line x1="409.5" y1="618.5" x2="409.5" y2="627.5" stroke="#3c3c3c" stroke-width="1"/>
<line x1="411.5" y1="618.5" x2="411.5" y2="627.5" stroke="#3c3c3c" stroke-width="1"/>
<line x1="413.5" y1="618.5" x2="413.5" y2="627.5" stroke="#3c3c3c" stroke-width="1"/>
<line x1="415.5" y1="618.5" x2="415.5" y2="627.5" stroke="#3c3c3c" stroke-width="1"/>
<line x1="417.5" y1="618.5" x2="417.5" y2="627.5" stroke="#8a8a8a" stroke-width="1"/>
<line x1="419.5" y1="618.5" x2="419.5" y2="627.5" stroke="#8a8a8a" stroke-width="1"/>
<line x1="421.5" y1="618.5" x2="421.5" y2="627.5" stroke="#8a8a8a" stroke-width="1"/>
<rect x="407.5" y="618.5" width="15.0" height="9.0" fill="none" stroke="#3c3c3c" stroke-width="1"/>
<g transform="translate(409.8,552)"><circle r="8.3" fill="#cf0a33"/>
<path d="M-1.75,-5.2 H1.75 V-1.75 H5.2 V1.75 H1.75 V5.2 H-1.75 V1.75 H-5.2 V-1.75 H-1.75 Z" fill="#fff"/>
</g>
<rect x="423" y="539.4" width="30.4" height="30.0" fill="#d8c2b6" stroke="#555" stroke-width="1"/>
<text x="0" y="0" transform="translate(441.4,555.9) rotate(-90)" text-anchor="middle" font-family="Liberation Serif" font-weight="bold" font-size="9.5" fill="#2b2b2b" stroke="#2b2b2b" stroke-width="0.25">101</text>
<rect x="453.4" y="539.4" width="31.0" height="30.0" fill="#d8c2b6" stroke="#555" stroke-width="1"/>
<text x="0" y="0" transform="translate(472.1,555.9) rotate(-90)" text-anchor="middle" font-family="Liberation Serif" font-weight="bold" font-size="9.5" fill="#2b2b2b" stroke="#2b2b2b" stroke-width="0.25">103</text>
<rect x="484.4" y="539.4" width="30.6" height="30.0" fill="#d8c2b6" stroke="#555" stroke-width="1"/>
<text x="0" y="0" transform="translate(502.9,555.9) rotate(-90)" text-anchor="middle" font-family="Liberation Serif" font-weight="bold" font-size="9.5" fill="#2b2b2b" stroke="#2b2b2b" stroke-width="0.25">105</text>
<rect x="515" y="539.4" width="30.6" height="30.0" fill="#d8c2b6" stroke="#555" stroke-width="1"/>
<text x="0" y="0" transform="translate(533.5,555.9) rotate(-90)" text-anchor="middle" font-family="Liberation Serif" font-weight="bold" font-size="9.5" fill="#2b2b2b" stroke="#2b2b2b" stroke-width="0.25">107</text>
<rect x="545.6" y="539.4" width="31.0" height="30.0" fill="#d8c2b6" stroke="#555" stroke-width="1"/>
<text x="0" y="0" transform="translate(564.3,555.9) rotate(-90)" text-anchor="middle" font-family="Liberation Serif" font-weight="bold" font-size="9.5" fill="#2b2b2b" stroke="#2b2b2b" stroke-width="0.25">109</text>
<rect x="423" y="588.4" width="30.4" height="30.0" fill="#d8c2b6" stroke="#555" stroke-width="1"/>
<text x="0" y="0" transform="translate(441.4,604.9) rotate(-90)" text-anchor="middle" font-family="Liberation Serif" font-weight="bold" font-size="9.5" fill="#2b2b2b" stroke="#2b2b2b" stroke-width="0.25">102</text>
<rect x="453.4" y="588.4" width="31.0" height="30.0" fill="#d8c2b6" stroke="#555" stroke-width="1"/>
<text x="0" y="0" transform="translate(472.1,604.9) rotate(-90)" text-anchor="middle" font-family="Liberation Serif" font-weight="bold" font-size="9.5" fill="#2b2b2b" stroke="#2b2b2b" stroke-width="0.25">104</text>
<rect x="484.4" y="588.4" width="30.6" height="30.0" fill="#d8c2b6" stroke="#555" stroke-width="1"/>
<text x="0" y="0" transform="translate(502.9,604.9) rotate(-90)" text-anchor="middle" font-family="Liberation Serif" font-weight="bold" font-size="9.5" fill="#2b2b2b" stroke="#2b2b2b" stroke-width="0.25">106</text>
<rect x="515" y="588.4" width="30.6" height="30.0" fill="#d8c2b6" stroke="#555" stroke-width="1"/>
<text x="0" y="0" transform="translate(533.5,604.9) rotate(-90)" text-anchor="middle" font-family="Liberation Serif" font-weight="bold" font-size="9.5" fill="#2b2b2b" stroke="#2b2b2b" stroke-width="0.25">108</text>
<rect x="545.6" y="588.4" width="31.0" height="30.0" fill="#d8c2b6" stroke="#555" stroke-width="1"/>
<text x="0" y="0" transform="translate(564.3,604.9) rotate(-90)" text-anchor="middle" font-family="Liberation Serif" font-weight="bold" font-size="9.5" fill="#2b2b2b" stroke="#2b2b2b" stroke-width="0.25">110</text>
<rect x="599.5" y="550.5" width="18.0" height="8.0" fill="#fff" stroke="none"/>
<rect x="609.4" y="550.5" width="8.1" height="8.0" fill="#b8b8b8" stroke="none"/>
<line x1="601.5" y1="550.5" x2="601.5" y2="558.5" stroke="#3c3c3c" stroke-width="1"/>
<line x1="603.5" y1="550.5" x2="603.5" y2="558.5" stroke="#3c3c3c" stroke-width="1"/>
<line x1="605.5" y1="550.5" x2="605.5" y2="558.5" stroke="#3c3c3c" stroke-width="1"/>
<line x1="607.5" y1="550.5" x2="607.5" y2="558.5" stroke="#3c3c3c" stroke-width="1"/>
<line x1="609.5" y1="550.5" x2="609.5" y2="558.5" stroke="#8a8a8a" stroke-width="1"/>
<line x1="611.5" y1="550.5" x2="611.5" y2="558.5" stroke="#8a8a8a" stroke-width="1"/>
<line x1="613.5" y1="550.5" x2="613.5" y2="558.5" stroke="#8a8a8a" stroke-width="1"/>
<line x1="615.5" y1="550.5" x2="615.5" y2="558.5" stroke="#8a8a8a" stroke-width="1"/>
<rect x="599.5" y="550.5" width="18.0" height="8.0" fill="none" stroke="#3c3c3c" stroke-width="1"/>
<rect x="601.5" y="598.5" width="19.0" height="9.0" fill="#fff" stroke="none"/>
<rect x="611.95" y="598.5" width="8.55" height="9.0" fill="#b8b8b8" stroke="none"/>
<line x1="603.5" y1="598.5" x2="603.5" y2="607.5" stroke="#3c3c3c" stroke-width="1"/>
<line x1="605.5" y1="598.5" x2="605.5" y2="607.5" stroke="#3c3c3c" stroke-width="1"/>
<line x1="607.5" y1="598.5" x2="607.5" y2="607.5" stroke="#3c3c3c" stroke-width="1"/>
<line x1="609.5" y1="598.5" x2="609.5" y2="607.5" stroke="#3c3c3c" stroke-width="1"/>
<line x1="611.5" y1="598.5" x2="611.5" y2="607.5" stroke="#3c3c3c" stroke-width="1"/>
<line x1="613.5" y1="598.5" x2="613.5" y2="607.5" stroke="#8a8a8a" stroke-width="1"/>
<line x1="615.5" y1="598.5" x2="615.5" y2="607.5" stroke="#8a8a8a" stroke-width="1"/>
<line x1="617.5" y1="598.5" x2="617.5" y2="607.5" stroke="#8a8a8a" stroke-width="1"/>
<line x1="619.5" y1="598.5" x2="619.5" y2="607.5" stroke="#8a8a8a" stroke-width="1"/>
<rect x="601.5" y="598.5" width="19.0" height="9.0" fill="none" stroke="#3c3c3c" stroke-width="1"/>
<g transform="translate(628.6,554.4)"><circle r="8.3" fill="#cf0a33"/>
<polygon points="0.0,-5.4 1.65,-1.77 5.61,-1.32 2.66,1.37 3.47,5.27 0.0,3.3 -3.47,5.27 -2.66,1.37 -5.61,-1.32 -1.65,-1.77" fill="#fff" stroke="#fff" stroke-width="0.6" stroke-linejoin="round"/>
</g>
<g transform="translate(592,602.4)"><circle r="8.3" fill="#cf0a33"/>
<rect x="-5.4" y="-2.6" width="10.8" height="2.6" fill="#fff"/>
<rect x="-4.5" y="0.6" width="9" height="4.6" fill="#fff"/>
<rect x="-0.7" y="-2.6" width="1.4" height="7.8" fill="#cf0a33"/>
<path d="M0,-2.8 C-1,-5 -3.5,-5.5 -3,-3.6 M0,-2.8 C1,-5 3.5,-5.5 3,-3.6" fill="none" stroke="#fff" stroke-width="0.9"/>
</g>
<rect x="643.4" y="539.4" width="30.0" height="30.0" fill="#d8c2b6" stroke="#555" stroke-width="1"/>
<text x="0" y="0" transform="translate(661.6,555.9) rotate(-90)" text-anchor="middle" font-family="Liberation Serif" font-weight="bold" font-size="9.5" fill="#2b2b2b" stroke="#2b2b2b" stroke-width="0.25">111</text>
<rect x="673.4" y="539.4" width="31.0" height="30.0" fill="#d8c2b6" stroke="#555" stroke-width="1"/>
<text x="0" y="0" transform="translate(692.1,555.9) rotate(-90)" text-anchor="middle" font-family="Liberation Serif" font-weight="bold" font-size="9.5" fill="#2b2b2b" stroke="#2b2b2b" stroke-width="0.25">113</text>
<rect x="704.4" y="539.4" width="31.0" height="30.0" fill="#d8c2b6" stroke="#555" stroke-width="1"/>
<text x="0" y="0" transform="translate(723.1,555.9) rotate(-90)" text-anchor="middle" font-family="Liberation Serif" font-weight="bold" font-size="9.5" fill="#2b2b2b" stroke="#2b2b2b" stroke-width="0.25">115</text>
<rect x="735.4" y="539.4" width="30.2" height="30.0" fill="#d8c2b6" stroke="#555" stroke-width="1"/>
<text x="0" y="0" transform="translate(753.7,555.9) rotate(-90)" text-anchor="middle" font-family="Liberation Serif" font-weight="bold" font-size="9.5" fill="#2b2b2b" stroke="#2b2b2b" stroke-width="0.25">117</text>
<rect x="643.4" y="588.4" width="30.0" height="30.0" fill="#d8c2b6" stroke="#555" stroke-width="1"/>
<text x="0" y="0" transform="translate(661.6,604.9) rotate(-90)" text-anchor="middle" font-family="Liberation Serif" font-weight="bold" font-size="9.5" fill="#2b2b2b" stroke="#2b2b2b" stroke-width="0.25">112</text>
<rect x="673.4" y="588.4" width="31.0" height="30.0" fill="#d8c2b6" stroke="#555" stroke-width="1"/>
<text x="0" y="0" transform="translate(692.1,604.9) rotate(-90)" text-anchor="middle" font-family="Liberation Serif" font-weight="bold" font-size="9.5" fill="#2b2b2b" stroke="#2b2b2b" stroke-width="0.25">114</text>
<rect x="704.4" y="588.4" width="31.0" height="30.0" fill="#d8c2b6" stroke="#555" stroke-width="1"/>
<text x="0" y="0" transform="translate(723.1,604.9) rotate(-90)" text-anchor="middle" font-family="Liberation Serif" font-weight="bold" font-size="9.5" fill="#2b2b2b" stroke="#2b2b2b" stroke-width="0.25">116</text>
<rect x="735.4" y="588.4" width="30.2" height="30.0" fill="#d8c2b6" stroke="#555" stroke-width="1"/>
<text x="0" y="0" transform="translate(753.7,604.9) rotate(-90)" text-anchor="middle" font-family="Liberation Serif" font-weight="bold" font-size="9.5" fill="#2b2b2b" stroke="#2b2b2b" stroke-width="0.25">118</text>
<path d="M765.6,539.4 L805,539.4 C842,540 856.6,550 856.6,566 L856.6,590 C856.6,607 842,618 805,618.4 L765.6,618.4" fill="none" stroke="#555" stroke-width="1"/>
<text x="779" y="582.7" text-anchor="start" font-family="Liberation Serif" font-size="9.6" fill="#262626" stroke="#262626" stroke-width="0.12">Сибирский паб</text>
<rect x="489" y="520" width="22" height="8" fill="#fff"/>
<rect x="489" y="628" width="22" height="8" fill="#fff"/>
<g transform="translate(499.6,523.2)"><circle r="8.3" fill="#cf0a33"/>
<path d="M-5.4,-2.9 L4.4,-2.9 L7,0.2 L4.4,3.3 L-5.4,3.3" fill="none" stroke="#fff" stroke-width="1.4"/>
<path d="M-3.4,-0.8 L3,-0.8 L4.1,0.2 L3,1.2 L-3.4,1.2 Z" fill="#fff"/>
</g>
<g transform="translate(499.6,631.8)"><circle r="8.3" fill="#cf0a33"/>
<path d="M-5.4,-2.9 L4.4,-2.9 L7,0.2 L4.4,3.3 L-5.4,3.3" fill="none" stroke="#fff" stroke-width="1.4"/>
<path d="M-3.4,-0.8 L3,-0.8 L4.1,0.2 L3,1.2 L-3.4,1.2 Z" fill="#fff"/>
</g>
<text x="1035.1" y="49" text-anchor="end" font-family="Liberation Serif" font-size="15" fill="#3a4242" stroke="#3a4242" stroke-width="0.12">Солнечная</text>
<text x="1039.5" y="59.6" text-anchor="end" font-family="Liberation Serif" font-size="9.6" fill="#262626" stroke="#262626" stroke-width="0.12">палуба</text>
<text x="1039.5" y="224.8" text-anchor="end" font-family="Liberation Serif" font-size="15" fill="#3a4242" stroke="#3a4242" stroke-width="0.12">Степь</text>
<text x="1036.9" y="235.8" text-anchor="end" font-family="Liberation Serif" font-size="9.6" fill="#262626" stroke="#262626" stroke-width="0.12">шлюпочная палуба</text>
<text x="1039.8" y="382.8" text-anchor="end" font-family="Liberation Serif" font-size="15" fill="#3a4242" stroke="#3a4242" stroke-width="0.12">Тайга</text>
<text x="1036.5" y="394.8" text-anchor="end" font-family="Liberation Serif" font-size="9.6" fill="#262626" stroke="#262626" stroke-width="0.12">средняя палуба</text>
<text x="1039.8" y="541" text-anchor="end" font-family="Liberation Serif" font-size="15" fill="#3a4242" stroke="#3a4242" stroke-width="0.12">Арктика</text>
<text x="1036.3" y="551.9" text-anchor="end" font-family="Liberation Serif" font-size="9.6" fill="#262626" stroke="#262626" stroke-width="0.12">главная палуба</text>
<rect x="70" y="690.3" width="47.7" height="19.1" fill="#d8c2b6" stroke="none" stroke-width="0"/>
<rect x="166" y="690.3" width="47.7" height="19.1" fill="#74122d" stroke="none" stroke-width="0"/>
<rect x="262" y="690.3" width="47.7" height="19.1" fill="#27366b" stroke="none" stroke-width="0"/>
<text x="70" y="737.8" text-anchor="start" font-family="Liberation Serif" font-size="9.6" fill="#262626" stroke="#262626" stroke-width="0.12">Делюкс</text>
<text x="70" y="748" text-anchor="start" font-family="Liberation Serif" font-size="9.6" fill="#262626" stroke="#262626" stroke-width="0.12">двухместный</text>
<text x="166" y="737.8" text-anchor="start" font-family="Liberation Serif" font-size="9.6" fill="#262626" stroke="#262626" stroke-width="0.12">Делюкс</text>
<text x="166" y="748" text-anchor="start" font-family="Liberation Serif" font-size="9.6" fill="#262626" stroke="#262626" stroke-width="0.12">трехместный</text>
<text x="262" y="737.8" text-anchor="start" font-family="Liberation Serif" font-size="9.6" fill="#262626" stroke="#262626" stroke-width="0.12">Стандарт</text>
<text x="262" y="748" text-anchor="start" font-family="Liberation Serif" font-size="9.6" fill="#262626" stroke="#262626" stroke-width="0.12">одноместный</text>
<g transform="translate(79.4,788.2)"><circle r="8.3" fill="#cf0a33"/>
<polygon points="0.0,-5.4 1.65,-1.77 5.61,-1.32 2.66,1.37 3.47,5.27 0.0,3.3 -3.47,5.27 -2.66,1.37 -5.61,-1.32 -1.65,-1.77" fill="#fff" stroke="#fff" stroke-width="0.6" stroke-linejoin="round"/>
</g>
<text x="100.6" y="791.6" text-anchor="start" font-family="Liberation Serif" font-size="9.6" fill="#262626" stroke="#262626" stroke-width="0.12">Ресепшн</text>
<g transform="translate(199.4,788.2)"><circle r="8.3" fill="#cf0a33"/>
<path d="M-5.4,-2.9 L4.4,-2.9 L7,0.2 L4.4,3.3 L-5.4,3.3" fill="none" stroke="#fff" stroke-width="1.4"/>
<path d="M-3.4,-0.8 L3,-0.8 L4.1,0.2 L3,1.2 L-3.4,1.2 Z" fill="#fff"/>
</g>
<text x="220.6" y="791.6" text-anchor="start" font-family="Liberation Serif" font-size="9.6" fill="#262626" stroke="#262626" stroke-width="0.12">Посадка в РИБы</text>
<g transform="translate(355.4,788.2)"><circle r="8.3" fill="#cf0a33"/>
<path d="M0,-1.2 L-5.6,3.6 L5.6,3.6 Z" fill="none" stroke="#fff" stroke-width="1.1" stroke-linejoin="round"/>
<path d="M-1.4,-3.6 A1.5,1.5 0 1 1 0,-1.8 L0,-1.2" fill="none" stroke="#fff" stroke-width="1"/>
</g>
<text x="376.6" y="791.6" text-anchor="start" font-family="Liberation Serif" font-size="9.6" fill="#262626" stroke="#262626" stroke-width="0.12">Раздевалка</text>
<g transform="translate(487.6,788.2)"><circle r="8.3" fill="#cf0a33"/>
<path d="M-1.75,-5.2 H1.75 V-1.75 H5.2 V1.75 H1.75 V5.2 H-1.75 V1.75 H-5.2 V-1.75 H-1.75 Z" fill="#fff"/>
</g>
<text x="509" y="791.6" text-anchor="start" font-family="Liberation Serif" font-size="9.6" fill="#262626" stroke="#262626" stroke-width="0.12">Медпункт</text>
<g transform="translate(599.1,788.2)"><circle r="8.3" fill="#cf0a33"/>
<rect x="-5.4" y="-2.6" width="10.8" height="2.6" fill="#fff"/>
<rect x="-4.5" y="0.6" width="9" height="4.6" fill="#fff"/>
<rect x="-0.7" y="-2.6" width="1.4" height="7.8" fill="#cf0a33"/>
<path d="M0,-2.8 C-1,-5 -3.5,-5.5 -3,-3.6 M0,-2.8 C1,-5 3.5,-5.5 3,-3.6" fill="none" stroke="#fff" stroke-width="0.9"/>
</g>
<text x="620.7" y="791.6" text-anchor="start" font-family="Liberation Serif" font-size="9.6" fill="#262626" stroke="#262626" stroke-width="0.12">Сувенирный магазин</text>
<g transform="translate(743.6,788.2)"><circle r="8.3" fill="#cf0a33"/>
<rect x="-3" y="-0.5" width="6" height="1.1" fill="#fff"/>
<rect x="-4.9" y="-3.7" width="2.3" height="7.4" rx="0.5" fill="#fff"/>
<rect x="2.6" y="-3.7" width="2.3" height="7.4" rx="0.5" fill="#fff"/>
<rect x="-4.0" y="-2.6" width="0.6" height="5.2" fill="#cf0a33"/>
<rect x="3.4" y="-2.6" width="0.6" height="5.2" fill="#cf0a33"/>
<path d="M-5.6,-2.6 Q-7.2,0 -5.6,2.6 M5.6,-2.6 Q7.2,0 5.6,2.6" fill="none" stroke="#fff" stroke-width="0.9"/>
</g>
<text x="765" y="791.6" text-anchor="start" font-family="Liberation Serif" font-size="9.6" fill="#262626" stroke="#262626" stroke-width="0.12">Фитнес центр</text>
</svg></body></html>
